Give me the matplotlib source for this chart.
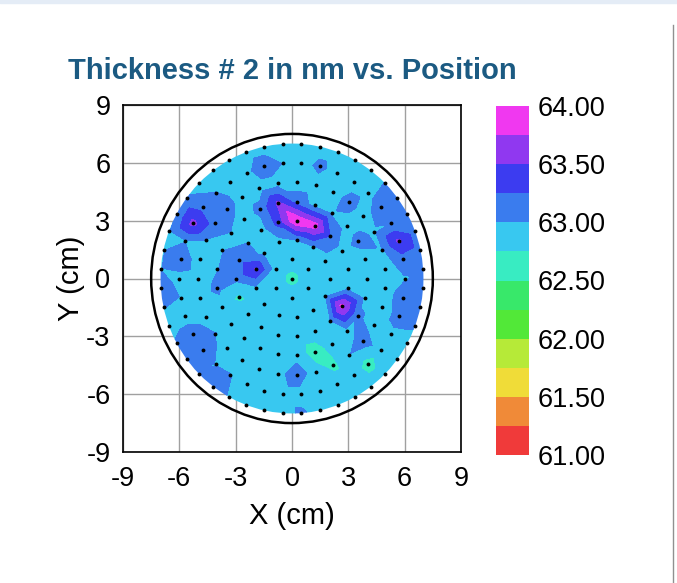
import matplotlib
matplotlib.use('Agg')
import matplotlib.pyplot as plt
import matplotlib.tri as mtri
import numpy as np
from matplotlib.patches import Circle, Rectangle
from matplotlib.lines import Line2D

plt.rcParams["font.family"] = ["Liberation Sans", "DejaVu Sans"]
plt.rcParams["axes.unicode_minus"] = False

# measurement layout: concentric rings (radius in cm, number of sites)
ring_radius = [0, 1, 2, 3, 4, 5, 6, 7]
ring_count = [1, 6, 13, 19, 25, 31, 38, 44]

# thickness (nm) per site, ring by ring, counter-clockwise from +x
ring0 = [62.66]
ring1 = [62.88, 62.88, 62.88, 62.88, 62.88, 62.88]
ring2 = [62.88, 62.88, 62.98, 63.00, 62.88, 62.96, 63.52, 62.96, 62.88,
         62.88, 62.88, 62.88, 62.98]
ring3 = [62.88, 62.88, 63.25, 63.88, 63.99, 63.35, 62.88, 63.00, 63.14,
         63.06, 62.70, 62.88, 62.88, 62.88, 62.88, 62.88, 62.99, 63.84,
         62.94]
ring4 = [62.88, 62.88, 63.08, 62.88, 62.97, 62.92, 63.14, 63.55, 63.07,
         62.88, 62.99, 62.99, 62.99, 63.06, 62.88, 62.88, 62.88, 62.88,
         62.88, 62.88, 62.62, 62.86, 62.88, 63.05, 62.94]
ring5 = [62.88, 62.98, 62.96, 62.88, 63.10, 62.88, 62.88, 62.88, 62.88,
         62.88, 62.88, 63.10, 63.12, 62.99, 62.88, 62.88, 62.88, 62.88,
         63.01, 62.88, 62.88, 62.88, 62.88, 63.18, 62.85, 62.68, 62.99,
         63.12, 62.88, 62.88, 62.88]
ring6 = [62.98, 63.12, 63.55, 63.01, 63.14, 62.92, 62.88, 62.88, 63.07,
         62.88, 62.99, 63.16, 62.94, 62.88, 63.01, 63.16, 63.58, 62.99,
         63.14, 62.92, 62.99, 62.88, 63.14, 63.14, 62.99, 63.01, 62.88,
         62.88, 62.88, 62.88, 62.88, 62.88, 62.88, 62.64, 62.88, 62.96,
         63.07, 63.12]
ring7 = [63.06, 63.12, 63.12, 63.01, 63.07, 63.01, 62.88, 62.88, 62.88,
         62.88, 62.88, 62.88, 62.88, 62.88, 62.88, 62.88, 62.88, 63.03,
         63.04, 62.96, 62.99, 62.99, 63.12, 63.01, 62.88, 63.03, 63.07,
         63.01, 63.12, 62.98, 62.88, 62.88, 62.88, 63.05, 62.88, 62.88,
         62.88, 62.88, 62.88, 62.88, 62.88, 63.03, 63.14, 63.07]
ring_values = [ring0, ring1, ring2, ring3, ring4, ring5, ring6, ring7]

levels = [61.00, 61.25, 61.50, 61.75, 62.00, 62.25, 62.50, 62.75,
          63.00, 63.25, 63.50, 63.75, 64.00]
level_colors = ["#f03a3a", "#f08a38", "#f0dc38", "#b6ea38", "#52e838",
                "#38e86a", "#38ecc2", "#38c8f0", "#3a7cee", "#3c3cf0",
                "#9038f0", "#f038f0"]
cbar_ticks = [61.0, 61.5, 62.0, 62.5, 63.0, 63.5, 64.0]
axis_ticks = [-9, -6, -3, 0, 3, 6, 9]

# site coordinates
xs, ys, zs = [], [], []
for r, n, vals in zip(ring_radius, ring_count, ring_values):
    off = 0.5 if r % 2 == 1 else 0.0
    ang = 2 * np.pi * (np.arange(n) + off) / n
    xs.extend(r * np.cos(ang))
    ys.extend(r * np.sin(ang))
    zs.extend(vals)
xs = np.array(xs)
ys = np.array(ys)
zs = np.array(zs)

# pad outside the last ring so the fill reaches the wafer edge
n7 = ring_count[-1]
xp = np.concatenate([xs, xs[-n7:] * 1.1])
yp = np.concatenate([ys, ys[-n7:] * 1.1])
zp = np.concatenate([zs, zs[-n7:]])

fig = plt.figure(figsize=(6.77, 5.83), dpi=100)
ax = fig.add_axes([123 / 677, 1 - 452 / 583, 338 / 677, 347 / 583])

tri = mtri.Triangulation(xp, yp)
cs = ax.tricontourf(tri, zp, levels=levels, colors=level_colors, zorder=2)
clip = Circle((0, 0), 7.0, transform=ax.transData)
cs.set_clip_path(clip)

ax.plot(xs, ys, 'o', color='black', ms=2.8, mew=0, zorder=4)
ax.add_patch(Circle((0, 0), 7.5, fill=False, ec='black', lw=1.8, zorder=3))

ax.set_xlim(-9, 9)
ax.set_ylim(-9, 9)
ax.set_xticks(axis_ticks)
ax.set_yticks(axis_ticks)
ax.grid(True, color='#a0a0a0', lw=1.0, zorder=0)
ax.set_axisbelow(True)
ax.tick_params(length=0, labelsize=19.5)
ax.tick_params(axis='x', pad=10)
ax.tick_params(axis='y', pad=9)
for s in ax.spines.values():
    s.set_linewidth(1.2)
ax.set_xlabel("X (cm)", fontsize=21, labelpad=7)
ax.set_ylabel("Y (cm)", fontsize=21, labelpad=1)

fig.text(292.5 / 677, 1 - 71 / 583, "Thickness # 2 in nm vs. Position",
         fontsize=21, fontweight='bold', color='#1b5a82',
         ha='center', va='center')

cax = fig.add_axes([496 / 677, 1 - 455 / 583, 33 / 677, 349 / 583])
cb = fig.colorbar(cs, cax=cax, ticks=cbar_ticks)
cb.outline.set_visible(False)
cb.ax.tick_params(length=0, labelsize=19.5, pad=6)
cb.ax.set_yticklabels(["%.2f" % t for t in cbar_ticks])

# frame bits of the original screenshot
fig.patches.append(Rectangle((0, 1 - 3 / 583), 1, 3 / 583,
                             transform=fig.transFigure, color='#e4ecf6'))
fig.lines.append(Line2D([673 / 677, 673 / 677], [0, 1 - 25 / 583],
                        transform=fig.transFigure, color='#909090', lw=1))

fig.savefig("out.png", dpi=100)
plt.close()
